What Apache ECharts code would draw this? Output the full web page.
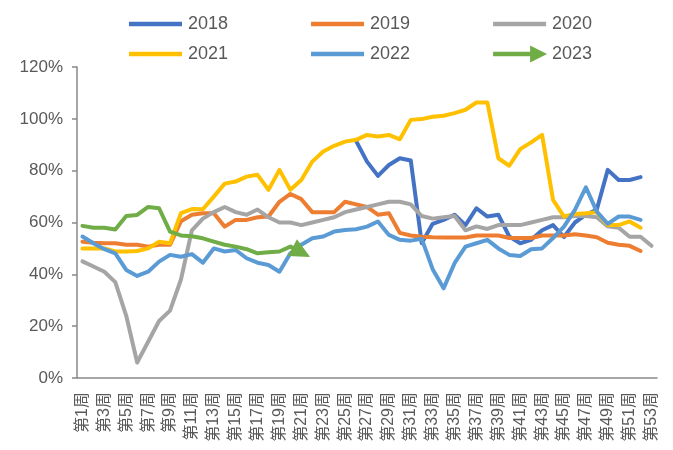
<!DOCTYPE html>
<html>
<head>
<meta charset="utf-8">
<script src="https://cdn.jsdelivr.net/npm/echarts@6/dist/echarts.min.js"></script>
<style>
  html, body { margin: 0; padding: 0; background: #fff; }
  #chart { width: 673px; height: 450px; }
</style>
</head>
<body>
<div id="chart"></div>
<script>
// 周次
const weeks = ['第1周', '第2周', '第3周', '第4周', '第5周', '第6周', '第7周', '第8周', '第9周', '第10周',
  '第11周', '第12周', '第13周', '第14周', '第15周', '第16周', '第17周', '第18周', '第19周', '第20周',
  '第21周', '第22周', '第23周', '第24周', '第25周', '第26周', '第27周', '第28周', '第29周', '第30周',
  '第31周', '第32周', '第33周', '第34周', '第35周', '第36周', '第37周', '第38周', '第39周', '第40周',
  '第41周', '第42周', '第43周', '第44周', '第45周', '第46周', '第47周', '第48周', '第49周', '第50周',
  '第51周', '第52周', '第53周'];

const yTicks = [0, 20, 40, 60, 80, 100, 120];

// 各年数据(%)，2018前半段被其他线遮住
const y2018 = [null, null, null, null, null, null, null, null, null, null,
  null, null, null, null, null, null, null, null, null, null,
  null, null, null, null, null, 91.5, 83.5, 78, 82.2, 84.8,
  83.9, 52, 59.5, 61, 63, 59, 65.5, 62.3, 63, 54.6,
  52, 53.3, 57, 59, 54.4, 60, 63, 65, 80.3, 76.4,
  76.4, 77.5];
const y2019 = [52.6, 52.2, 52, 52, 51.4, 51.4, 50.7, 51.4, 51.4, 60.5,
  63, 63.6, 63.6, 58.4, 61, 61, 62, 62.3, 68, 71,
  69, 64, 64, 64, 68, 67, 66, 63, 63.6, 56,
  55, 54.5, 54.3, 54.2, 54.2, 54.2, 55, 55, 55, 54,
  54, 54, 55, 55, 55, 55.5, 55, 54.3, 52.2, 51.4,
  51, 49];
const y2020 = [45, 43, 41, 37, 24, 6, 14, 22, 26, 38,
  57, 61.5, 64, 66, 64, 63, 65, 62, 60, 60,
  59, 60, 61, 62, 64, 65, 66, 67, 68, 68,
  67, 62.5, 61.5, 62, 62.5, 57, 58.5, 57.5, 59, 59,
  59, 60, 61, 62, 62, 62.5, 62.5, 62, 58.5, 58,
  54.5, 54.5, 51];
const y2021 = [50, 50, 50, 48.8, 48.8, 49, 50, 52.6, 52, 63.6,
  65.2, 65.1, 70, 75, 75.8, 77.7, 78.4, 72.6, 80.3, 72.6,
  76.4, 83.5, 87.4, 89.6, 91.2, 91.9, 93.8, 93.2, 93.8, 92.1,
  99.6, 99.9, 100.8, 101.2, 102.2, 103.5, 106.3, 106.3, 84.8, 81.9,
  88.3, 90.9, 93.8, 68.7, 62.3, 63.3, 63.6, 64, 59, 59,
  60.4, 58];
const y2022 = [54.6, 52, 49.7, 48.1, 41.7, 39.4, 41, 44.9, 47.5, 46.8,
  47.8, 44.5, 50, 48.8, 49.4, 46.2, 44.5, 43.6, 41, 48.1,
  51.4, 53.9, 54.6, 56.5, 57.1, 57.4, 58.4, 60.4, 55.2, 53.3,
  53, 53.7, 42, 34.6, 44.3, 50.7, 52, 53.3, 50, 47.5,
  47.1, 49.7, 50, 54, 58.4, 64.9, 73.6, 64.2, 59.5, 62.3,
  62.3, 61];
const y2023 = [58.7, 58, 58, 57.3, 62.5, 62.9, 66, 65.5, 56.5, 55,
  54.7, 53.9, 52.6, 51.4, 50.7, 49.7, 48.1, 48.5, 48.8, 50.7,
  48.5];

const colors = ['#4472C4', '#ED7D31', '#A5A5A5', '#FFC000', '#5B9BD5', '#70AD47'];
const fontFamily = "'Liberation Sans', 'Noto Sans CJK SC', sans-serif";

// 图例图标：细线 / 带箭头的线
const barIcon = 'path://M0,0L0,0ZM55,20L55,20ZM1,7.8L54,7.8L54,12.2L1,12.2Z';
const arrowIcon = 'path://M0,0L0,0ZM55,20L55,20ZM1,7.8L38,7.8L38,1.5L55,10L38,18.5L38,12.2L1,12.2Z';

function makeLine(name, data, idx) {
  return {
    name,
    type: 'line',
    data,
    symbol: 'none',
    showAllSymbol: true,
    connectNulls: false,
    color: colors[idx],
    lineStyle: { width: 4, color: colors[idx], cap: 'round', join: 'round' },
    emphasis: { disabled: true }
  };
}

// 2023 最后一点加箭头
const last2023 = y2023.length - 1;
const data2023 = y2023.map((v, i) => i === last2023
  ? { value: v, symbol: 'triangle', symbolSize: [19, 20], symbolRotate: -118, itemStyle: { color: colors[5] } }
  : v);

const chart = echarts.init(document.getElementById('chart'), null, { renderer: 'canvas' });

const legendText = { fontSize: 18, color: '#595959', fontFamily };

chart.setOption({
  animation: false,
  legend: [
    {
      data: [{ name: '2018', icon: barIcon }, { name: '2019', icon: barIcon }, { name: '2020', icon: barIcon }],
      left: 123, top: 9, itemWidth: 55, itemHeight: 20, itemGap: 82,
      itemStyle: { borderWidth: 0 }, textStyle: legendText, selectedMode: false
    },
    {
      data: [{ name: '2021', icon: barIcon }, { name: '2022', icon: barIcon }, { name: '2023', icon: arrowIcon }],
      left: 123, top: 39, itemWidth: 55, itemHeight: 20, itemGap: 82,
      itemStyle: { borderWidth: 0 }, textStyle: legendText, selectedMode: false
    }
  ],
  grid: { left: 77, right: 16, top: 67, bottom: 72, containLabel: false },
  xAxis: {
    type: 'category',
    data: weeks,
    boundaryGap: true,
    axisLine: { lineStyle: { color: '#898989', width: 1.5 } },
    axisTick: { show: false },
    axisLabel: { interval: 1, rotate: 90, margin: 14, fontSize: 16, color: '#595959', fontFamily }
  },
  yAxis: {
    type: 'value',
    min: yTicks[0],
    max: yTicks[yTicks.length - 1],
    interval: 20,
    splitLine: { show: false },
    axisLine: { show: true, lineStyle: { color: '#898989', width: 1.5 } },
    axisTick: { show: true, length: 5, lineStyle: { color: '#898989', width: 1.5 } },
    axisLabel: { formatter: '{value}%', margin: 14, fontSize: 17, color: '#595959', fontFamily }
  },
  series: [
    makeLine('2018', y2018, 0),
    makeLine('2019', y2019, 1),
    makeLine('2020', y2020, 2),
    makeLine('2021', y2021, 3),
    makeLine('2022', y2022, 4),
    Object.assign(makeLine('2023', data2023, 5), { symbol: 'none' })
  ]
});
</script>
</body>
</html>
